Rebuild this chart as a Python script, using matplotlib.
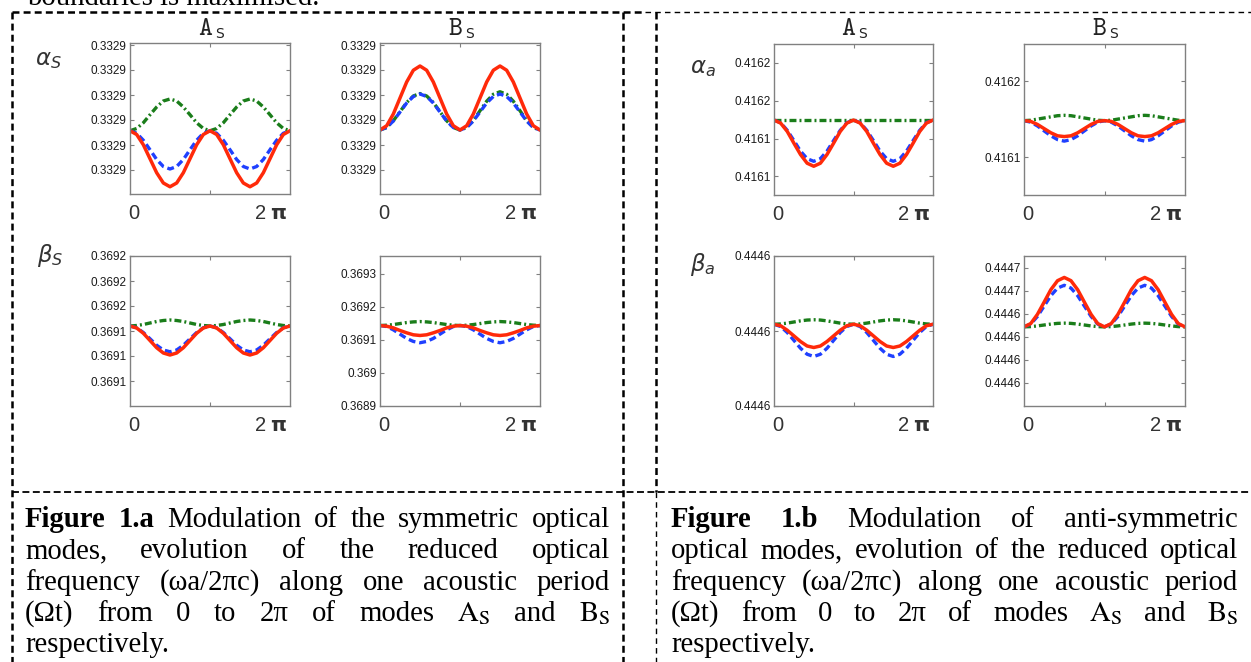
import numpy as np
import matplotlib.pyplot as plt

plt.rcParams['lines.scale_dashes'] = False

W, H = 1251, 662

# sample points along one acoustic period (0 .. 2pi)
phase = np.linspace(0, 2 * np.pi, 25)

# ---- values, in units of the y tick spacing ----
# Fig 1.a  alpha_S / A_S
p1_green = [2.57, 2.66, 2.89, 3.21, 3.52, 3.76, 3.84, 3.76, 3.52, 3.21, 2.89, 2.66, 2.57,
            2.66, 2.89, 3.21, 3.52, 3.76, 3.84, 3.76, 3.52, 3.21, 2.89, 2.66, 2.57]
p1_blue = [2.57, 2.47, 2.19, 1.81, 1.42, 1.14, 1.04, 1.14, 1.42, 1.81, 2.19, 2.47, 2.57,
           2.47, 2.19, 1.81, 1.42, 1.14, 1.04, 1.14, 1.42, 1.81, 2.19, 2.47, 2.57]
p1_red = [2.57, 2.42, 2.01, 1.45, 0.89, 0.48, 0.33, 0.48, 0.89, 1.45, 2.01, 2.42, 2.57,
          2.42, 2.01, 1.45, 0.89, 0.48, 0.33, 0.48, 0.89, 1.45, 2.01, 2.42, 2.57]
# Fig 1.a  alpha_S / B_S
p2_green = [2.6, 2.7, 2.97, 3.33, 3.7, 3.96, 4.06, 3.96, 3.7, 3.33, 2.97, 2.7, 2.6,
            2.7, 2.98, 3.37, 3.75, 4.03, 4.13, 4.03, 3.75, 3.37, 2.98, 2.7, 2.6]
p2_blue = [2.6, 2.7, 2.96, 3.32, 3.68, 3.94, 4.04, 3.94, 3.68, 3.32, 2.96, 2.7, 2.6,
           2.7, 2.96, 3.32, 3.68, 3.94, 4.04, 3.94, 3.68, 3.32, 2.96, 2.7, 2.6]
p2_red = [2.6, 2.77, 3.24, 3.88, 4.52, 4.99, 5.16, 4.99, 4.52, 3.88, 3.24, 2.77, 2.6,
          2.77, 3.24, 3.88, 4.52, 4.99, 5.16, 4.99, 4.52, 3.88, 3.24, 2.77, 2.6]
# Fig 1.a  beta_S / A_S
p3_green = [3.2, 3.22, 3.26, 3.32, 3.38, 3.42, 3.44, 3.42, 3.38, 3.32, 3.26, 3.22, 3.2,
            3.22, 3.26, 3.32, 3.38, 3.42, 3.44, 3.42, 3.38, 3.32, 3.26, 3.22, 3.2]
p3_blue = [3.2, 3.13, 2.94, 2.69, 2.43, 2.24, 2.17, 2.24, 2.43, 2.69, 2.94, 3.13, 3.2,
           3.13, 2.94, 2.69, 2.43, 2.24, 2.17, 2.24, 2.43, 2.69, 2.94, 3.13, 3.2]
p3_red = [3.2, 3.12, 2.91, 2.62, 2.33, 2.12, 2.04, 2.12, 2.33, 2.62, 2.91, 3.12, 3.2,
          3.12, 2.91, 2.62, 2.33, 2.12, 2.04, 2.12, 2.33, 2.62, 2.91, 3.12, 3.2]
# Fig 1.a  beta_S / B_S
p4_green = [2.43, 2.44, 2.46, 2.49, 2.52, 2.54, 2.55, 2.54, 2.52, 2.49, 2.46, 2.44, 2.43,
            2.44, 2.46, 2.49, 2.52, 2.54, 2.55, 2.54, 2.52, 2.49, 2.46, 2.44, 2.43]
p4_blue = [2.43, 2.40, 2.30, 2.17, 2.04, 1.95, 1.91, 1.95, 2.04, 2.17, 2.30, 2.40, 2.43,
           2.40, 2.30, 2.17, 2.04, 1.95, 1.91, 1.95, 2.04, 2.17, 2.30, 2.40, 2.43]
p4_red = [2.43, 2.41, 2.36, 2.28, 2.21, 2.15, 2.13, 2.15, 2.21, 2.28, 2.36, 2.41, 2.43,
          2.41, 2.36, 2.28, 2.21, 2.15, 2.13, 2.15, 2.21, 2.28, 2.36, 2.41, 2.43]
# Fig 1.b  alpha_a / A_S
p5_green = [2.49, 2.49, 2.49, 2.49, 2.49, 2.49, 2.49, 2.49, 2.49, 2.49, 2.49, 2.49, 2.49,
            2.49, 2.49, 2.49, 2.49, 2.49, 2.49, 2.49, 2.49, 2.49, 2.49, 2.49, 2.49]
p5_blue = [2.49, 2.42, 2.22, 1.95, 1.67, 1.47, 1.40, 1.47, 1.67, 1.95, 2.22, 2.42, 2.49,
           2.42, 2.22, 1.95, 1.67, 1.47, 1.40, 1.47, 1.67, 1.95, 2.22, 2.42, 2.49]
p5_red = [2.49, 2.41, 2.19, 1.88, 1.58, 1.35, 1.27, 1.35, 1.58, 1.88, 2.19, 2.41, 2.49,
          2.41, 2.19, 1.88, 1.58, 1.35, 1.27, 1.35, 1.58, 1.88, 2.19, 2.41, 2.49]
# Fig 1.b  alpha_a / B_S
p6_green = [1.48, 1.485, 1.50, 1.515, 1.53, 1.545, 1.55, 1.545, 1.53, 1.515, 1.50, 1.485, 1.48,
            1.485, 1.50, 1.515, 1.53, 1.545, 1.55, 1.545, 1.53, 1.515, 1.50, 1.485, 1.48]
p6_blue = [1.48, 1.46, 1.41, 1.345, 1.28, 1.23, 1.21, 1.23, 1.28, 1.345, 1.41, 1.46, 1.48,
           1.46, 1.41, 1.345, 1.28, 1.23, 1.21, 1.23, 1.28, 1.345, 1.41, 1.46, 1.48]
p6_red = [1.48, 1.47, 1.43, 1.375, 1.32, 1.28, 1.27, 1.28, 1.32, 1.375, 1.43, 1.47, 1.48,
          1.47, 1.43, 1.375, 1.32, 1.28, 1.27, 1.28, 1.32, 1.375, 1.43, 1.47, 1.48]
# Fig 1.b  beta_a / A_S
p7_green = [1.09, 1.094, 1.105, 1.12, 1.135, 1.146, 1.15, 1.146, 1.135, 1.12, 1.105, 1.094, 1.09,
            1.094, 1.105, 1.12, 1.135, 1.146, 1.15, 1.146, 1.135, 1.12, 1.105, 1.094, 1.09]
p7_blue = [1.09, 1.06, 0.98, 0.875, 0.77, 0.69, 0.66, 0.69, 0.77, 0.875, 0.98, 1.06, 1.09,
           1.06, 0.98, 0.875, 0.77, 0.69, 0.66, 0.69, 0.77, 0.875, 0.98, 1.06, 1.09]
p7_red = [1.09, 1.07, 1.01, 0.935, 0.86, 0.80, 0.78, 0.80, 0.86, 0.935, 1.01, 1.07, 1.09,
          1.07, 1.01, 0.935, 0.86, 0.80, 0.78, 0.80, 0.86, 0.935, 1.01, 1.07, 1.09]
# Fig 1.b  beta_a / B_S
p8_green = [3.43, 3.44, 3.47, 3.51, 3.55, 3.58, 3.59, 3.58, 3.55, 3.51, 3.47, 3.44, 3.43,
            3.44, 3.47, 3.51, 3.55, 3.58, 3.59, 3.58, 3.55, 3.51, 3.47, 3.44, 3.43]
p8_blue = [3.43, 3.55, 3.88, 4.33, 4.78, 5.11, 5.23, 5.11, 4.78, 4.33, 3.88, 3.55, 3.43,
           3.55, 3.88, 4.33, 4.78, 5.11, 5.23, 5.11, 4.78, 4.33, 3.88, 3.55, 3.43]
p8_red = [3.43, 3.57, 3.97, 4.50, 5.04, 5.43, 5.57, 5.43, 5.04, 4.50, 3.97, 3.57, 3.43,
          3.57, 3.97, 4.50, 5.04, 5.43, 5.57, 5.43, 5.04, 4.50, 3.97, 3.57, 3.43]

# tick positions / labels (bottom to top)
p1_ticks = [1, 2, 3, 4, 5, 6]
p1_labels = ['0.3329'] * 6
p3_ticks = [1, 2, 3, 4, 5, 6]
p3_labels = ['0.3691', '0.3691', '0.3691', '0.3692', '0.3692', '0.3692']
p4_ticks = [0, 1, 2, 3, 4]
p4_labels = ['0.3689', '0.369', '0.3691', '0.3692', '0.3693']
p5_ticks = [1, 2, 3, 4]
p5_labels = ['0.4161', '0.4161', '0.4162', '0.4162']
p6_ticks = [1, 2]
p6_labels = ['0.4161', '0.4162']
p7_ticks = [0, 1, 2]
p7_labels = ['0.4446'] * 3
p8_ticks = [1, 2, 3, 4, 5, 6]
p8_labels = ['0.4446'] * 4 + ['0.4447'] * 2

caption_a = ["Figure 1.a Modulation of the symmetric optical",
             "modes, evolution of the reduced optical",
             "frequency (\u03c9a/2\u03c0c) along one acoustic period",
             "(\u03a9t) from 0 to 2\u03c0 of modes $\\mathrm{A}_\\mathrm{S}$ and $\\mathrm{B}_\\mathrm{S}$",
             "respectively."]
caption_b = ["Figure 1.b Modulation of anti-symmetric",
             "optical modes, evolution of the reduced optical",
             "frequency (\u03c9a/2\u03c0c) along one acoustic period",
             "(\u03a9t) from 0 to 2\u03c0 of modes $\\mathrm{A}_\\mathrm{S}$ and $\\mathrm{B}_\\mathrm{S}$",
             "respectively."]

RED, BLUE, GREEN = '#ff2a0a', '#1f40ff', '#1a7d1a'

fig = plt.figure(figsize=(W / 100, H / 100), dpi=100)
bg = fig.add_axes([0, 0, 1, 1])
bg.set_xlim(0, W)
bg.set_ylim(H, 0)
bg.axis('off')


def panel(box, green, blue, red, ticks, labels, ylim):
    x0, y0, x1, y1 = box
    ax = fig.add_axes([x0 / W, 1 - y1 / H, (x1 - x0) / W, (y1 - y0) / H])
    ax.plot(phase, green, color=GREEN, lw=2.4, dashes=(5, 2.2, 1.4, 2.2))
    ax.plot(phase, blue, color=BLUE, lw=2.4, dashes=(5, 2.8))
    ax.plot(phase, red, color=RED, lw=2.5)
    ax.set_xlim(0, 2 * np.pi)
    ax.set_ylim(*ylim)
    ax.set_xticks([np.pi])
    ax.set_yticks(ticks)
    ax.set_yticklabels(labels, fontsize=8.5, family='Liberation Sans', color='#1a1a1a')
    ax.tick_params(direction='in', length=3, width=0.8, color='#808080',
                   top=True, right=True, labelbottom=False, pad=2.5)
    for s in ax.spines.values():
        s.set_color('#808080')
        s.set_linewidth(1.0)
    ax.text(-0.01, -0.065, '0', transform=ax.transAxes, ha='left', va='top',
            fontsize=14.5, family='Liberation Sans', color='#333333')
    ax.text(0.985, -0.065, r'2 $\mathbf{\pi}$', transform=ax.transAxes, ha='right', va='top',
            fontsize=14.5, family='Liberation Sans', color='#333333',
            math_fontfamily='dejavusans')
    return ax


panel((130, 43, 290, 194), p1_green, p1_blue, p1_red, p1_ticks, p1_labels, (0.04, 6.08))
panel((380, 43, 540, 194), p2_green, p2_blue, p2_red, p1_ticks, p1_labels, (0.04, 6.08))
panel((130, 256, 290, 406), p3_green, p3_blue, p3_red, p3_ticks, p3_labels, (0, 6))
panel((380, 256, 540, 406), p4_green, p4_blue, p4_red, p4_ticks, p4_labels, (0, 4.53))
panel((774, 44, 933, 195), p5_green, p5_blue, p5_red, p5_ticks, p5_labels, (0.51, 4.5))
panel((1024, 44, 1185, 195), p6_green, p6_blue, p6_red, p6_ticks, p6_labels, (0.5, 2.49))
panel((774, 256, 933, 406), p7_green, p7_blue, p7_red, p7_ticks, p7_labels, (0, 2))
panel((1024, 256, 1185, 406), p8_green, p8_blue, p8_red, p8_ticks, p8_labels, (0, 6.5))

# column titles
for cx, letter in [(210, 'A'), (460, 'B'), (853, 'A'), (1104, 'B')]:
    bg.text(cx + 3, 35, r'$\mathtt{%s}$' % letter, ha='right', va='baseline', fontsize=19,
            math_fontfamily='cm', color='#222222')
    bg.text(cx + 5, 38, 'S', ha='left', va='baseline', fontsize=10,
            family='DejaVu Sans', color='#222222')

# row labels
for x, y, s in [(35, 65, r'$\alpha_S$'), (37, 262, r'$\beta_S$'),
                (690, 73, r'$\alpha_a$'), (690, 271, r'$\beta_a$')]:
    bg.text(x, y, s, ha='left', va='baseline', fontsize=16.5, color='#333333',
            math_fontfamily='dejavusans')

# dashed frames
thick = dict(color='black', lw=1.8, dashes=(5, 3))
thin = dict(color='black', lw=1.0, dashes=(4, 3))
bg.plot([12, 645], [12, 12], **thick)
bg.plot([645, W], [12, 12], **thin)
bg.plot([12, 12], [12, H], **thick)
bg.plot([623, 623], [12, H], **thick)
bg.plot([656, 656], [12, 492], **thick)
bg.plot([656, 656], [492, H], **thin)
bg.plot([12, W], [492, 492], color='black', lw=1.3, dashes=(5, 2.5))

# text cut off at the top of the page
bg.text(27, 5, 'boundaries is maximised.', ha='left', va='baseline', fontsize=20.7,
        family='Liberation Serif')

# justified captions
rend = fig.canvas.get_renderer()
bold_words = {'Figure', '1.a', '1.b'}


def caption(lines, x0, x1, y0, step):
    for i, line in enumerate(lines):
        y = y0 + i * step
        words = []
        for w in line.split(' '):
            if words and words[-1].count('$') % 2 == 1:
                words[-1] += ' ' + w
            else:
                words.append(w)
        texts = [bg.text(0, y, w, ha='left', va='baseline', fontsize=20.7,
                         family='Liberation Serif', math_fontfamily='stix',
                         weight='bold' if w in bold_words else 'normal')
                 for w in words]
        widths = [t.get_window_extent(renderer=rend).width for t in texts]
        if i < len(lines) - 1 and len(texts) > 1:
            gap = (x1 - x0 - sum(widths)) / (len(texts) - 1)
        else:
            gap = 7
        x = x0
        for t, wd in zip(texts, widths):
            t.set_x(x)
            x += wd + gap


caption(caption_a, 25, 610, 527, 31.3)
caption(caption_b, 671, 1238, 527, 31.3)

fig.savefig('out.png', dpi=100)
